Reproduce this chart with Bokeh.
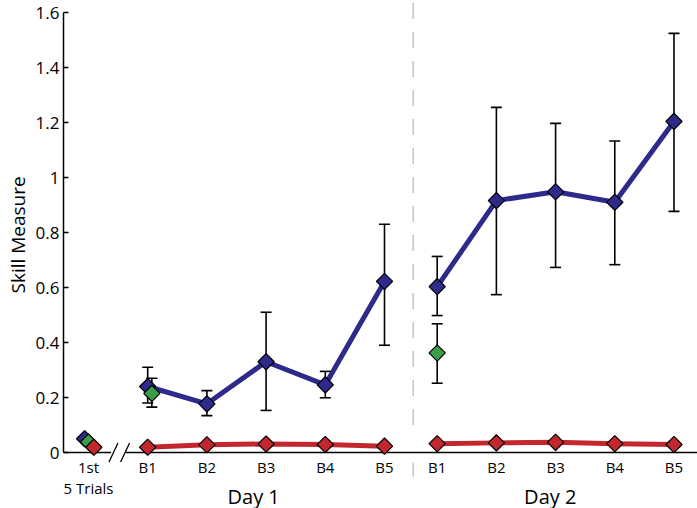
import numpy as np
from bokeh.plotting import figure
from bokeh.models import Range1d, FixedTicker, Title
from bokeh.core.properties import value
from bokeh.embed import file_html
from bokeh.resources import INLINE

# ---------------- data ----------------
block_labels = ["B1", "B2", "B3", "B4", "B5"]
first_labels = ["1st", "5 Trials"]
day_labels = ["Day 1", "Day 2"]
y_title = "Skill Measure"
y_ticks = [0, 0.2, 0.4, 0.6, 0.8, 1.0, 1.2, 1.4, 1.6]
y_tick_labels = ["0", "0.2", "0.4", "0.6", "0.8", "1", "1.2", "1.4", "1.6"]

first_blue = [0.050]
first_green = [0.038]
first_red = [0.019]

blue_day1 = [0.240, 0.177, 0.330, 0.246, 0.622]
blue_day1_hi = [0.310, 0.225, 0.510, 0.295, 0.830]
blue_day1_lo = [0.180, 0.134, 0.153, 0.199, 0.390]

blue_day2 = [0.603, 0.916, 0.948, 0.910, 1.204]
blue_day2_hi = [0.713, 1.255, 1.197, 1.133, 1.524]
blue_day2_lo = [0.498, 0.574, 0.673, 0.683, 0.877]

green_b1 = [0.215, 0.362]
green_b1_hi = [0.270, 0.468]
green_b1_lo = [0.165, 0.252]

red_day1 = [0.019, 0.028, 0.031, 0.029, 0.023]
red_day2 = [0.032, 0.035, 0.037, 0.032, 0.029]

# ---------------- positions / layout ----------------
FIRST_X = 0.0
DAY1_X = np.arange(1, 6, dtype=float)
DAY2_X = DAY1_X + 4.89
DAY_LABEL_X = [2.79, 7.80]
SEP_X = 5.485

PX_X = 59.2      # pixels per x unit
PX_Y = 275.0     # pixels per y unit
W, H = 697, 508
LEFT = 60
FRAME_W = W - LEFT
FIRST_PX = 28    # first position from frame left (px)
ZERO_PX = 452    # y=0 from frame top (px)

x0 = -FIRST_PX / PX_X
x1 = x0 + FRAME_W / PX_X
y_top = ZERO_PX / PX_Y
y_bot = y_top - H / PX_Y
AXIS_X = x0 + 3 / PX_X

BLUE = "#2e2a8c"
RED = "#c1272d"
GREEN = "#3a9e48"
SEP = "#c4c4c4"
FONT = "Open Sans"

p = figure(width=W, height=H, output_backend="svg", toolbar_location=None,
           x_range=Range1d(x0, x1), y_range=Range1d(y_bot, y_top),
           x_axis_type=None, min_border_left=LEFT, min_border_right=0,
           min_border_top=0, min_border_bottom=0)
p.outline_line_color = None
p.grid.visible = False
p.background_fill_color = "white"

# y axis: labels only from Bokeh axis
ya = p.yaxis[0]
ya.ticker = FixedTicker(ticks=y_ticks)
ya.major_label_overrides = {t: s for t, s in zip(y_ticks, y_tick_labels)}
ya.axis_line_color = None
ya.major_tick_line_color = None
ya.minor_tick_line_color = None
ya.major_tick_out = 0
ya.major_tick_in = 0
ya.major_label_standoff = 1
ya.major_label_text_font = FONT
ya.major_label_text_font_size = "17px"
ya.major_label_text_color = "black"

# y title, started 215px above the figure bottom
p.add_layout(Title(text=y_title, align="left", offset=215, standoff=0,
                   vertical_align="top",
                   text_font=FONT, text_font_size="19px",
                   text_font_style="normal", text_color="black"), "left")

# axis lines drawn in data space
p.segment(x0=[AXIS_X], y0=[y_ticks[0]], x1=[AXIS_X], y1=[y_ticks[-1]],
          line_color="black", line_width=1.5)
tick_len = 5 / PX_X
p.segment(x0=[AXIS_X] * len(y_ticks), y0=y_ticks,
          x1=[AXIS_X + tick_len] * len(y_ticks), y1=y_ticks,
          line_color="black", line_width=1.5)
BREAK_L, BREAK_R = 0.38, 0.63
p.segment(x0=[AXIS_X, BREAK_R], y0=[0, 0], x1=[BREAK_L, x1], y1=[0, 0],
          line_color="black", line_width=1.5)
# axis break slashes
sl_c = [0.422, 0.618]
dx, dy = 4.5 / PX_X, 9.5 / PX_Y
p.segment(x0=[c - dx for c in sl_c], y0=[-dy, -dy],
          x1=[c + dx for c in sl_c], y1=[dy, dy],
          line_color="black", line_width=1.3)

# day separator
p.line(x=[SEP_X, SEP_X], y=[0.1, y_top], line_color=SEP, line_width=1.5,
       line_dash="16 13")
p.segment(x0=[SEP_X], y0=[-10 / PX_Y], x1=[SEP_X], y1=[-24 / PX_Y],
          line_color=SEP, line_width=1.5)

# series lines
p.line(DAY1_X, red_day1, line_color=RED, line_width=5, line_join="round")
p.line(DAY2_X, red_day2, line_color=RED, line_width=5, line_join="round")
p.line(DAY1_X, blue_day1, line_color=BLUE, line_width=5, line_join="round")
p.line(DAY2_X, blue_day2, line_color=BLUE, line_width=5, line_join="round")

# error bars
GREEN_OFF1 = 0.07
green_x = [1 + GREEN_OFF1, DAY2_X[0]]
ex = list(DAY1_X) + list(DAY2_X) + green_x
elo = blue_day1_lo + blue_day2_lo + green_b1_lo
ehi = blue_day1_hi + blue_day2_hi + green_b1_hi
p.segment(x0=ex, y0=elo, x1=ex, y1=ehi, line_color="black", line_width=1.6)
p.scatter(ex + ex, elo + ehi, marker="dash", size=11, line_color="black",
          line_width=1.6)

MK = dict(marker="square", angle=np.pi / 4, size=11.5, line_color="black",
          line_width=1.2)
# first trials markers
p.scatter([FIRST_X - 0.065], first_blue, fill_color=BLUE, **MK)
p.scatter([FIRST_X], first_green, fill_color=GREEN, **MK)
p.scatter([FIRST_X + 0.09], first_red, fill_color=RED, **MK)

p.scatter(DAY1_X, red_day1, fill_color=RED, **MK)
p.scatter(DAY2_X, red_day2, fill_color=RED, **MK)
p.scatter(DAY1_X, blue_day1, fill_color=BLUE, **MK)
p.scatter(DAY2_X, blue_day2, fill_color=BLUE, **MK)
p.scatter(green_x, green_b1, fill_color=GREEN, **MK)

# x labels
ROW1 = -14 / PX_Y
ROW2 = -35 / PX_Y
DAYROW = -43.5 / PX_Y
bx = list(DAY1_X) + list(DAY2_X)
p.text(x=bx, y=[ROW1] * len(bx), text=block_labels + block_labels,
       text_font=value(FONT), text_font_size="15px", text_align="center",
       text_baseline="middle", text_color="black")
p.text(x=[FIRST_X, FIRST_X], y=[ROW1, ROW2], text=first_labels,
       text_font=value(FONT), text_font_size="15px", text_align="center",
       text_baseline="middle", text_color="black")
p.text(x=DAY_LABEL_X, y=[DAYROW, DAYROW], text=day_labels,
       text_font=value(FONT), text_font_size="20px", text_align="center",
       text_baseline="middle", text_color="black")

open("out.html", "w").write(file_html(p, INLINE))
